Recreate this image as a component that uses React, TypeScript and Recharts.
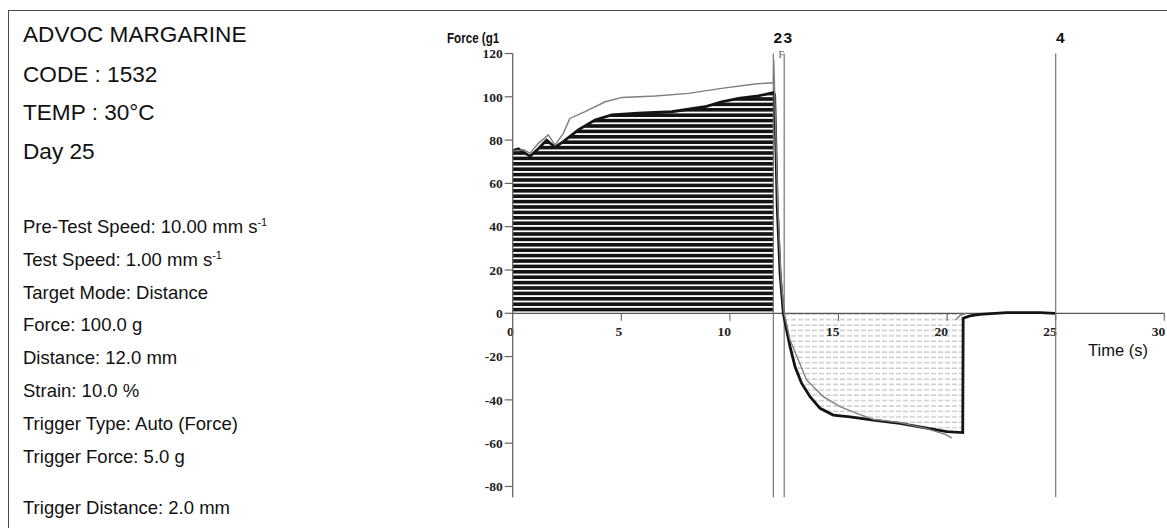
import React from "react";
import { ComposedChart, Area, Line, XAxis, YAxis, ReferenceLine } from "recharts";

// black trace (test run)
const blackTime = [
  0, 0.26, 0.8, 1.18, 1.56, 1.95, 2.33, 3.02, 3.79, 4.56, 5.78, 7.32, 8.85, 9.62, 10.39, 11.31, 12.0,
  12.06, 12.11, 12.18, 12.31, 12.46, 12.61, 12.77, 13.0, 13.3, 13.69, 14.15, 14.76, 15.53, 16.6,
  17.83, 19.06, 19.98, 20.72, 20.74, 21.05, 21.5, 22.74, 24.28, 24.97,
];
const blackForce = [
  75, 76, 72.5, 76, 80, 76.7, 79.3, 84.7, 89.3, 91.6, 92.4, 93.1, 95.4, 97.7, 99.3, 100.4, 102,
  101, 80, 49, 18.5, 0, -7.7, -15.4, -24.7, -32.3, -38.5, -43.9, -47, -47.8, -49.3,
  -50.8, -53.1, -54.7, -55.1, -2.3, -1.2, -0.5, 0.3, 0.3, 0,
];

// grey trace (reference run)
const greyTime = [
  0, 0.5, 0.8, 1.18, 1.64, 1.95, 2.33, 2.63, 3.33, 4.26, 5.03, 6.56, 8.1, 9.62, 11.15, 12.0, 12.02,
  12.1, 12.2, 12.35, 12.5, 12.77, 13.53, 14.3, 15.07, 15.84, 16.6, 17.83, 19.06, 19.98, 20.21,
  20.3, 20.4, 20.6, 20.9,
];
const greyForce = [
  75, 75.5, 74, 78.5, 82.4, 77.7, 83.1, 90, 93.1, 97.7, 99.7, 100.4, 101.6, 103.9, 105.9, 106.5, 117,
  88, 52, 16, 0, -12.3, -30.8, -38.5, -43.1, -46.2, -49, -50.5, -53.3, -56.2, -57.7,
  null, -3, -1, 0,
];

const yTicks = [-80, -60, -40, -20, 0, 20, 40, 60, 80, 100, 120];
const xTicks = [0, 5, 10, 15, 20, 25, 30];
const markerTimes = [12, 12.5, 25];
const markerLabels = ["2", "3", "4"];

const headerLines = ["ADVOC MARGARINE", "CODE : 1532", "TEMP : 30°C", "Day 25"];
const settingLines = [
  "Pre-Test Speed: 10.00 mm s",
  "Test Speed: 1.00 mm s",
  "Target Mode: Distance",
  "Force: 100.0 g",
  "Distance: 12.0 mm",
  "Strain: 10.0 %",
  "Trigger Type: Auto (Force)",
  "Trigger Force: 5.0 g",
  "Trigger Distance: 2.0 mm",
];
const settingSup = ["-1", "-1", "", "", "", "", "", "", ""];

const blackData = blackTime.map((t, i) => ({ t, force: blackForce[i] }));
const greyData = greyTime.map((t, i) => ({ t, force: greyForce[i] }));
const posFill = blackData.filter((d) => d.t <= 12);
const negFill = blackData.filter((d) => d.t >= 12.46 && d.t <= 20.72);

const SANS = "'Liberation Sans', Arial, sans-serif";
const SERIF = "'Liberation Serif', 'Times New Roman', serif";
const AXIS = "#666";

const headerY = [42, 81.5, 120, 158.5];
const settingY = [233, 266, 298.5, 331, 364, 397, 430, 462.5, 513.5];

const xTickLabel = (t: number) => (p: any) => {
  const vb = p.viewBox || {};
  return (
    <text x={vb.x + 1} y={vb.y + 23} textAnchor="end" fontFamily={SERIF} fontWeight="bold" fontSize={13.5} fill="#222">
      {t}
    </text>
  );
};

const markerLabel = (text: string, i: number) => (p: any) => {
  const vb = p.viewBox || {};
  const dx = i === 1 ? 3.5 : 4.5;
  return (
    <g>
      <text x={vb.x + dx} y={vb.y - 11} textAnchor="middle" fontFamily={SANS} fontWeight="bold" fontSize={15.5} fill="#111">
        {text}
      </text>
      {i === 1 && (
        <text x={vb.x - 3} y={vb.y + 4.5} textAnchor="middle" fontFamily={SERIF} fontSize={10} fill="#555">
          F
        </text>
      )}
    </g>
  );
};

export default function App() {
  return (
    <div style={{ position: "absolute", left: 0, top: 0, width: 1167, height: 528, background: "#fff", overflow: "hidden" }}>
      <div
        style={{
          position: "absolute",
          left: 8,
          top: 10,
          width: 1159,
          height: 518,
          borderTop: "1.6px solid #4a4a4a",
          borderLeft: "1.6px solid #4a4a4a",
        }}
      />
      <div style={{ position: "absolute", left: 0, top: 0 }}>
        <ComposedChart width={1167} height={528} margin={{ top: 53.5, right: 2.7, bottom: 30.7, left: 462.7 }}>
          <defs>
            <pattern id="hatchDark" patternUnits="userSpaceOnUse" width="8" height="5.4">
              <rect x="0" y="0" width="8" height="3.6" fill="#141414" />
            </pattern>
            <pattern id="hatchLight" patternUnits="userSpaceOnUse" width="7" height="5.4">
              <line x1="0" y1="1" x2="5" y2="1" stroke="#a8a8a8" strokeWidth="0.9" />
            </pattern>
          </defs>
          <XAxis dataKey="t" type="number" domain={[0, 30]} hide allowDuplicatedCategory={false} />
          <YAxis
            type="number"
            domain={[-85, 120]}
            ticks={yTicks}
            width={50}
            axisLine={{ stroke: AXIS, strokeWidth: 1.3 }}
            tickLine={{ stroke: AXIS, strokeWidth: 1.2 }}
            tickSize={8}
            tickMargin={2}
            tick={{ fontFamily: SERIF, fontWeight: "bold", fontSize: 13.5, fill: "#222" }}
          />
          <Area
            data={posFill}
            dataKey="force"
            type="linear"
            baseValue={0}
            stroke="none"
            fill="url(#hatchDark)"
            fillOpacity={1}
            isAnimationActive={false}
          />
          <Area
            data={negFill}
            dataKey="force"
            type="linear"
            baseValue={0}
            stroke="none"
            fill="url(#hatchLight)"
            fillOpacity={1}
            isAnimationActive={false}
          />
          <ReferenceLine y={0} stroke="#555" strokeWidth={1.2} />
          {xTicks.slice(1).map((t) => (
            <ReferenceLine
              key={"tk" + t}
              segment={[
                { x: t, y: 0 },
                { x: t, y: -3.5 },
              ]}
              stroke={AXIS}
              strokeWidth={1.1}
            />
          ))}
          {xTicks.map((t) => (
            <ReferenceLine
              key={"tl" + t}
              segment={[
                { x: t, y: 0 },
                { x: t, y: -0.01 },
              ]}
              stroke="none"
              label={xTickLabel(t)}
            />
          ))}
          {markerTimes.map((t, i) => (
            <ReferenceLine key={"m" + t} x={t} stroke="#757575" strokeWidth={1.2} label={markerLabel(markerLabels[i], i)} />
          ))}
          <Line
            data={blackData}
            dataKey="force"
            type="linear"
            stroke="#141414"
            strokeWidth={2.8}
            dot={false}
            activeDot={false}
            isAnimationActive={false}
          />
          <Line
            data={greyData}
            dataKey="force"
            type="linear"
            stroke="#7e7e7e"
            strokeWidth={1.4}
            dot={false}
            activeDot={false}
            connectNulls={false}
            isAnimationActive={false}
          />
        </ComposedChart>
      </div>
      <svg width={1167} height={528} style={{ position: "absolute", left: 0, top: 0 }}>
        {headerLines.map((s, i) => (
          <text key={s} x={23} y={headerY[i]} fontFamily={SANS} fontSize={22.6} fill="#111">
            {s}
          </text>
        ))}
        {settingLines.map((s, i) => (
          <text key={s} x={23} y={settingY[i]} fontFamily={SANS} fontSize={18.5} fill="#111">
            {s}
            {settingSup[i] && (
              <tspan dy={-7} fontSize={11}>
                {settingSup[i]}
              </tspan>
            )}
          </text>
        ))}
        <text transform="translate(447,43) scale(0.8,1)" fontFamily={SANS} fontWeight="bold" fontSize={14.5} fill="#111">
          Force (g1
        </text>
        <text x={1088} y={356} fontFamily={SANS} fontSize={16.5} fill="#111">
          Time (s)
        </text>
      </svg>
    </div>
  );
}
